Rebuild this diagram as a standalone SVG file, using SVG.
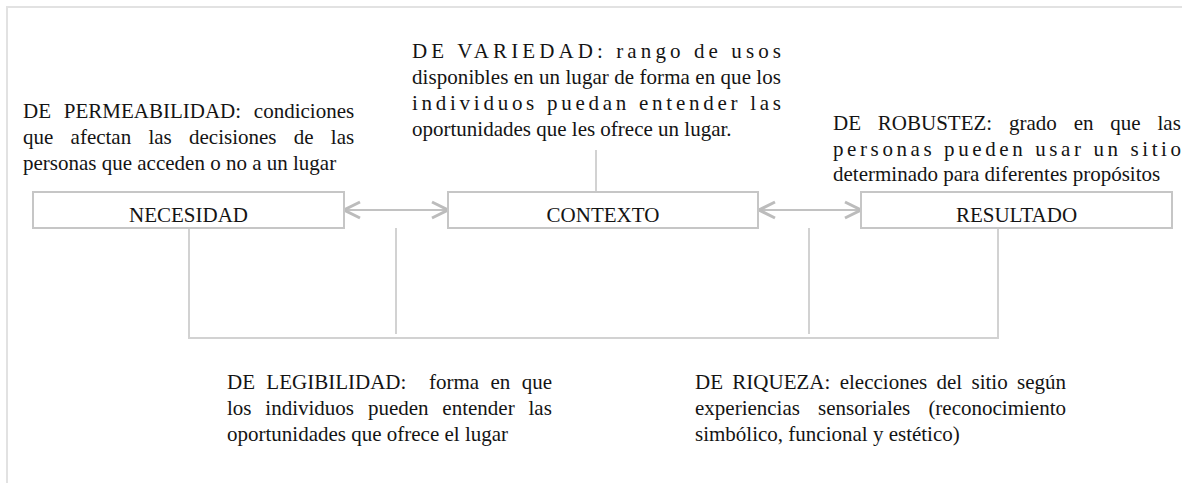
<svg xmlns="http://www.w3.org/2000/svg" width="1182" height="483" viewBox="0 0 1182 483">
  <style>
    .t { font-family: "Liberation Serif", "Times New Roman", serif; font-size: 21px; fill: #141414; }
    .lbl { text-anchor: middle; }
    .box { fill: #ffffff; stroke: #c6c6c6; stroke-width: 2; }
    .con { fill: none; stroke: #d2d2d2; stroke-width: 2; }
    .arr { fill: none; stroke: #c2c2c2; stroke-width: 2; }
    .frame { fill: none; stroke: #e2e2e2; stroke-width: 2; }
  </style>
  <defs>
    <marker id="chev" viewBox="-19 -11 22 22" refX="0" refY="0" markerWidth="22" markerHeight="22" markerUnits="userSpaceOnUse" orient="auto-start-reverse">
      <path d="M-16,-8 L0,0 L-16,8" fill="none" stroke="#bcbcbc" stroke-width="3" stroke-linejoin="miter"/>
    </marker>
  </defs>
  <rect width="1182" height="483" fill="#ffffff"/>
  <path class="frame" d="M7,483 V7 H1182"/>

  <g id="connectors">
    <line class="arr" x1="344" y1="210" x2="448" y2="210" marker-start="url(#chev)" marker-end="url(#chev)"/>
    <line class="arr" x1="759" y1="210" x2="861" y2="210" marker-start="url(#chev)" marker-end="url(#chev)"/>
    <line class="con" x1="596" y1="150" x2="596" y2="192"/>
    <path class="con" d="M189,228 V338 H998 V228"/>
    <line class="con" x1="396" y1="228" x2="396" y2="334"/>
    <line class="con" x1="809" y1="228" x2="809" y2="334"/>
  </g>

  <g id="node-necesidad">
    <rect class="box" x="33" y="192" width="311" height="36"/>
    <text class="t lbl" x="188.5" y="222">NECESIDAD</text>
  </g>
  <g id="node-contexto">
    <rect class="box" x="448" y="192" width="310" height="36"/>
    <text class="t lbl" x="603" y="222">CONTEXTO</text>
  </g>
  <g id="node-resultado">
    <rect class="box" x="861" y="192" width="311" height="36"/>
    <text class="t lbl" x="1016.5" y="222">RESULTADO</text>
  </g>

  <g id="note-permeabilidad">
    <text class="t" x="23" y="118" word-spacing="7.5">DE PERMEABILIDAD: condiciones</text>
    <text class="t" x="23" y="144" word-spacing="12">que afectan las decisiones de las</text>
    <text class="t" x="23" y="170">personas que acceden o no a un lugar</text>
  </g>

  <g id="note-variedad">
    <text class="t" x="412" y="58" textLength="369" lengthAdjust="spacing">DE VARIEDAD: rango de usos</text>
    <text class="t" x="412" y="84" textLength="369" lengthAdjust="spacing">disponibles en un lugar de forma en que los</text>
    <text class="t" x="412" y="110" textLength="369" lengthAdjust="spacing">individuos puedan entender las</text>
    <text class="t" x="412" y="136">oportunidades que les ofrece un lugar.</text>
  </g>

  <g id="note-robustez">
    <text class="t" x="833" y="130" word-spacing="11.6">DE ROBUSTEZ: grado en que las</text>
    <text class="t" x="833" y="155.5" textLength="348" lengthAdjust="spacing">personas pueden usar un sitio</text>
    <text class="t" x="833" y="181">determinado para diferentes propósitos</text>
  </g>

  <g id="note-legibilidad">
    <text class="t" x="227" y="389" word-spacing="6.1" xml:space="preserve">DE LEGIBILIDAD:  forma en que</text>
    <text class="t" x="227" y="415" word-spacing="8.6">los individuos pueden entender las</text>
    <text class="t" x="227" y="441">oportunidades que ofrece el lugar</text>
  </g>

  <g id="note-riqueza">
    <text class="t" x="695" y="389" word-spacing="4.1">DE RIQUEZA: elecciones del sitio según</text>
    <text class="t" x="695" y="415" word-spacing="12.9">experiencias sensoriales (reconocimiento</text>
    <text class="t" x="695" y="441">simbólico, funcional y estético)</text>
  </g>
</svg>
